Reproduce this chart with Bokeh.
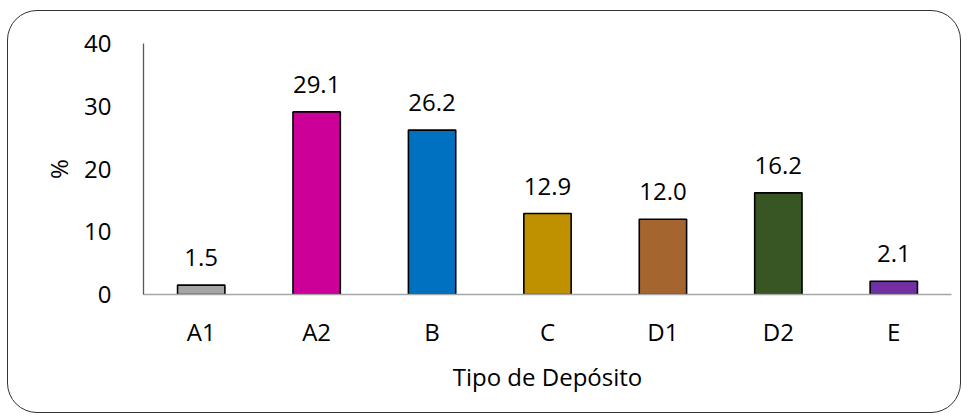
from bokeh.plotting import figure
from bokeh.models import ColumnDataSource, LabelSet, FixedTicker
from bokeh.core.properties import value
from bokeh.embed import file_html
from bokeh.resources import INLINE

categories = ["A1", "A2", "B", "C", "D1", "D2", "E"]
values = [1.5, 29.1, 26.2, 12.9, 12.0, 16.2, 2.1]
labels = ["1.5", "29.1", "26.2", "12.9", "12.0", "16.2", "2.1"]
colors = ["#A5A5A5", "#CC0099", "#0070C0", "#BF9000", "#A5652F", "#375623", "#7030A0"]
y_ticks = [0, 10, 20, 30, 40]

FONT = "Open Sans"
FS = "24px"

src = ColumnDataSource(dict(cat=categories, val=values, lab=labels, col=colors))

p = figure(x_range=categories, y_range=(0, 40), width=954, height=403,
           output_backend="svg", toolbar_location=None,
           min_border_left=135, min_border_right=11, min_border_top=32,
           min_border_bottom=120)
p.styles = {"border": "1.6px solid #333333", "border-radius": "30px",
            "margin-top": "10px", "margin-left": "7px", "box-sizing": "border-box"}
p.outline_line_color = None
p.grid.grid_line_color = None
p.background_fill_color = "white"
p.border_fill_color = None

p.vbar(x="cat", top="val", width=0.41, source=src, fill_color="col",
       line_color="black", line_width=1.6)

labs = LabelSet(x="cat", y="val", text="lab", source=src, text_align="center",
                text_baseline="alphabetic", y_offset=19, text_font=value(FONT),
                text_font_size=value(FS), text_color="black")
p.add_layout(labs)

p.yaxis.ticker = FixedTicker(ticks=y_ticks)
p.yaxis.axis_label = "%"
p.xaxis.axis_label = "Tipo de Depósito"
for ax in (p.xaxis, p.yaxis):
    ax.major_tick_line_color = None
    ax.minor_tick_line_color = None
    ax.major_label_text_font = FONT
    ax.major_label_text_font_size = FS
    ax.major_label_text_color = "black"
    ax.axis_label_text_font = FONT
    ax.axis_label_text_font_size = FS
    ax.axis_label_text_font_style = "normal"
    ax.axis_label_text_color = "black"
p.yaxis.axis_line_color = "#595959"
p.yaxis.axis_line_width = 1.3
p.xaxis.axis_line_color = "#A6A6A6"
p.xaxis.axis_line_width = 1.5
p.yaxis.major_label_standoff = 26
p.yaxis.axis_label_standoff = 6
p.xaxis.major_label_standoff = 14
p.xaxis.axis_label_standoff = 9

open("out.html", "w").write(file_html(p, INLINE))
